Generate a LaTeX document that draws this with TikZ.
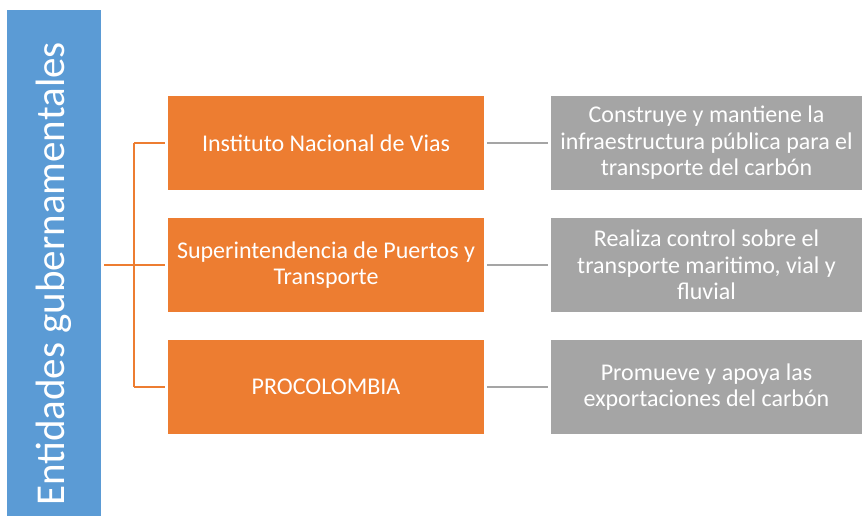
\documentclass[tikz,border=0pt]{standalone}
\usepackage{fontspec}
\setmainfont{Carlito}
\definecolor{entblue}{HTML}{5B9BD5}
\definecolor{entorange}{HTML}{ED7D31}
\definecolor{entgray}{HTML}{A5A5A5}
\begin{document}
\begin{tikzpicture}[x=1pt,y=-1pt,
        entidad/.style={fill=entorange,text=white,minimum width=316pt,minimum height=94pt,align=center,font=\fontsize{24}{26.5}\selectfont},
        funcion/.style={fill=entgray,text=white,minimum width=311pt,minimum height=94pt,align=center,font=\fontsize{24}{26.5}\selectfont},
        naranja/.style={draw=entorange,line width=2.2pt},
        gris/.style={draw=entgray,line width=2.2pt}]
        \useasboundingbox (0,0) rectangle (862,516);
        \draw (54,263) node[fill=entblue,text=white,rotate=90,minimum width=506pt,minimum height=94pt,font=\fontsize{41}{48}\selectfont] (G) {Entidades gubernamentales\hspace*{22pt}};
        \draw (326,143) node[entidad] (I) {Instituto Nacional de Vias};
        \draw (326,265) node[entidad] (S) {Superintendencia de Puertos y\\Transporte};
        \draw (326,387) node[entidad] (P) {PROCOLOMBIA};
        \draw (706.5,143) node[funcion] (Fi) {Construye y mantiene la\\infraestructura pública para el\\transporte del carbón};
        \draw (706.5,265) node[funcion] (Fs) {Realiza control sobre el\\transporte maritimo, vial y\\fluvial};
        \draw (706.5,387) node[funcion] (Fp) {Promueve y apoya las\\exportaciones del carbón};
        \coordinate (J) at (134,265);
        \draw[naranja] (G.south |- S.west) ++(3,0) -- (J);
        \draw[naranja] (J |- I.west) -- (J |- P.west);
        \draw[naranja,shorten >=3pt] (J |- I.west) -- (I.west);
        \draw[naranja,shorten >=3pt] (J) -- (S.west);
        \draw[naranja,shorten >=3pt] (J |- P.west) -- (P.west);
        \draw[gris,shorten <=3pt,shorten >=3pt] (I.east) -- (Fi.west);
        \draw[gris,shorten <=3pt,shorten >=3pt] (S.east) -- (Fs.west);
        \draw[gris,shorten <=3pt,shorten >=3pt] (P.east) -- (Fp.west);
    \end{tikzpicture}
\end{document}
